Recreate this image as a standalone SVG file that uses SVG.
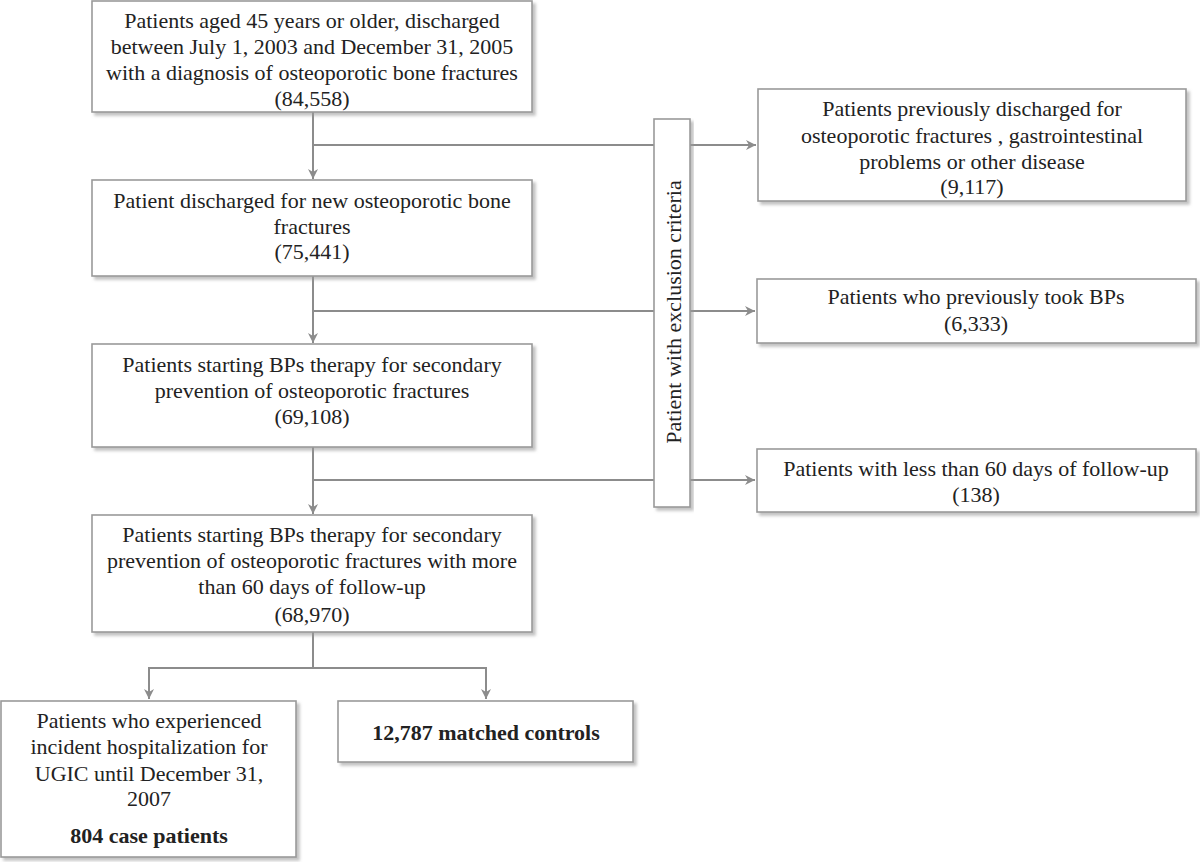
<svg xmlns="http://www.w3.org/2000/svg" width="1200" height="862" viewBox="0 0 1200 862">
<style>
.box{fill:#fff;stroke:#9a9a9a;stroke-width:1.6;filter:url(#sh)}
.t{font-family:"Liberation Serif","Times New Roman",serif;font-size:22px;fill:#222;text-anchor:middle}
.b{font-weight:bold}
.c{fill:none;stroke:#8c8c8c;stroke-width:2}
</style>
<defs>
<filter id="sh" x="-5%" y="-5%" width="115%" height="120%">
<feDropShadow dx="3" dy="3" stdDeviation="1.5" flood-color="#999" flood-opacity="0.6"/>
</filter>
<marker id="ah" viewBox="0 0 10 10" refX="10" refY="5" markerWidth="10" markerHeight="10" markerUnits="userSpaceOnUse" orient="auto">
<path d="M0,0 L10,5 L0,10 L3,5 z" fill="#8c8c8c"/>
</marker>
</defs>
<rect width="1200" height="862" fill="#fff"/>
<g id="connectors">
<path class="c" d="M313,112 V179" marker-end="url(#ah)"/>
<path class="c" d="M313,145 H756" marker-end="url(#ah)"/>
<path class="c" d="M313,276 V343" marker-end="url(#ah)"/>
<path class="c" d="M313,311 H755" marker-end="url(#ah)"/>
<path class="c" d="M313,447 V514" marker-end="url(#ah)"/>
<path class="c" d="M313,480 H755" marker-end="url(#ah)"/>
<path class="c" d="M313,632 V668"/>
<path class="c" d="M149,668 H486"/>
<path class="c" d="M149,667 V699" marker-end="url(#ah)"/>
<path class="c" d="M486,667 V699" marker-end="url(#ah)"/>
</g>
<g id="n1">
<rect class="box" x="92" y="1" width="440" height="111"/>
<text class="t" x="312" y="27.5">Patients aged 45 years or older, discharged</text>
<text class="t" x="312" y="53.5">between July 1, 2003 and December 31, 2005</text>
<text class="t" x="312" y="79.5">with a diagnosis of osteoporotic bone fractures</text>
<text class="t" x="312" y="105.5">(84,558)</text>
</g>
<g id="n2">
<rect class="box" x="92" y="180" width="440" height="96"/>
<text class="t" x="312" y="207.5">Patient discharged for new osteoporotic bone</text>
<text class="t" x="312" y="233.5">fractures</text>
<text class="t" x="312" y="259">(75,441)</text>
</g>
<g id="n3">
<rect class="box" x="92" y="344" width="440" height="103"/>
<text class="t" x="312" y="371.5">Patients starting BPs therapy for secondary</text>
<text class="t" x="312" y="397.5">prevention of osteoporotic fractures</text>
<text class="t" x="312" y="423.5">(69,108)</text>
</g>
<g id="n4">
<rect class="box" x="92" y="515" width="440" height="117"/>
<text class="t" x="312" y="542">Patients starting BPs therapy for secondary</text>
<text class="t" x="312" y="568">prevention of osteoporotic fractures with more</text>
<text class="t" x="312" y="594">than 60 days of follow-up</text>
<text class="t" x="312" y="621.5">(68,970)</text>
</g>
<g id="excl">
<rect class="box" x="654" y="119" width="36" height="388"/>
<text class="t" transform="translate(681,312) rotate(-90)" x="0" y="0">Patient with exclusion criteria</text>
</g>
<g id="r1">
<rect class="box" x="758" y="89" width="428" height="112"/>
<text class="t" x="972" y="116">Patients previously discharged for</text>
<text class="t" x="972" y="142.5">osteoporotic fractures , gastrointestinal</text>
<text class="t" x="972" y="168.5">problems or other disease</text>
<text class="t" x="972" y="194">(9,117)</text>
</g>
<g id="r2">
<rect class="box" x="757" y="279" width="439" height="64"/>
<text class="t" x="976" y="304">Patients who previously took BPs</text>
<text class="t" x="976" y="331">(6,333)</text>
</g>
<g id="r3">
<rect class="box" x="757" y="449" width="439" height="63"/>
<text class="t" x="976" y="476">Patients with less than 60 days of follow-up</text>
<text class="t" x="976" y="501.5">(138)</text>
</g>
<g id="cases">
<rect class="box" x="1" y="701" width="295" height="156"/>
<text class="t" x="149" y="728">Patients who experienced</text>
<text class="t" x="149" y="754">incident hospitalization for</text>
<text class="t" x="149" y="780.5">UGIC until December 31,</text>
<text class="t" x="149" y="806">2007</text>
<text class="t b" x="149" y="843">804 case patients</text>
</g>
<g id="controls">
<rect class="box" x="338" y="701" width="295" height="61"/>
<text class="t b" x="486" y="740">12,787 matched controls</text>
</g>
</svg>
